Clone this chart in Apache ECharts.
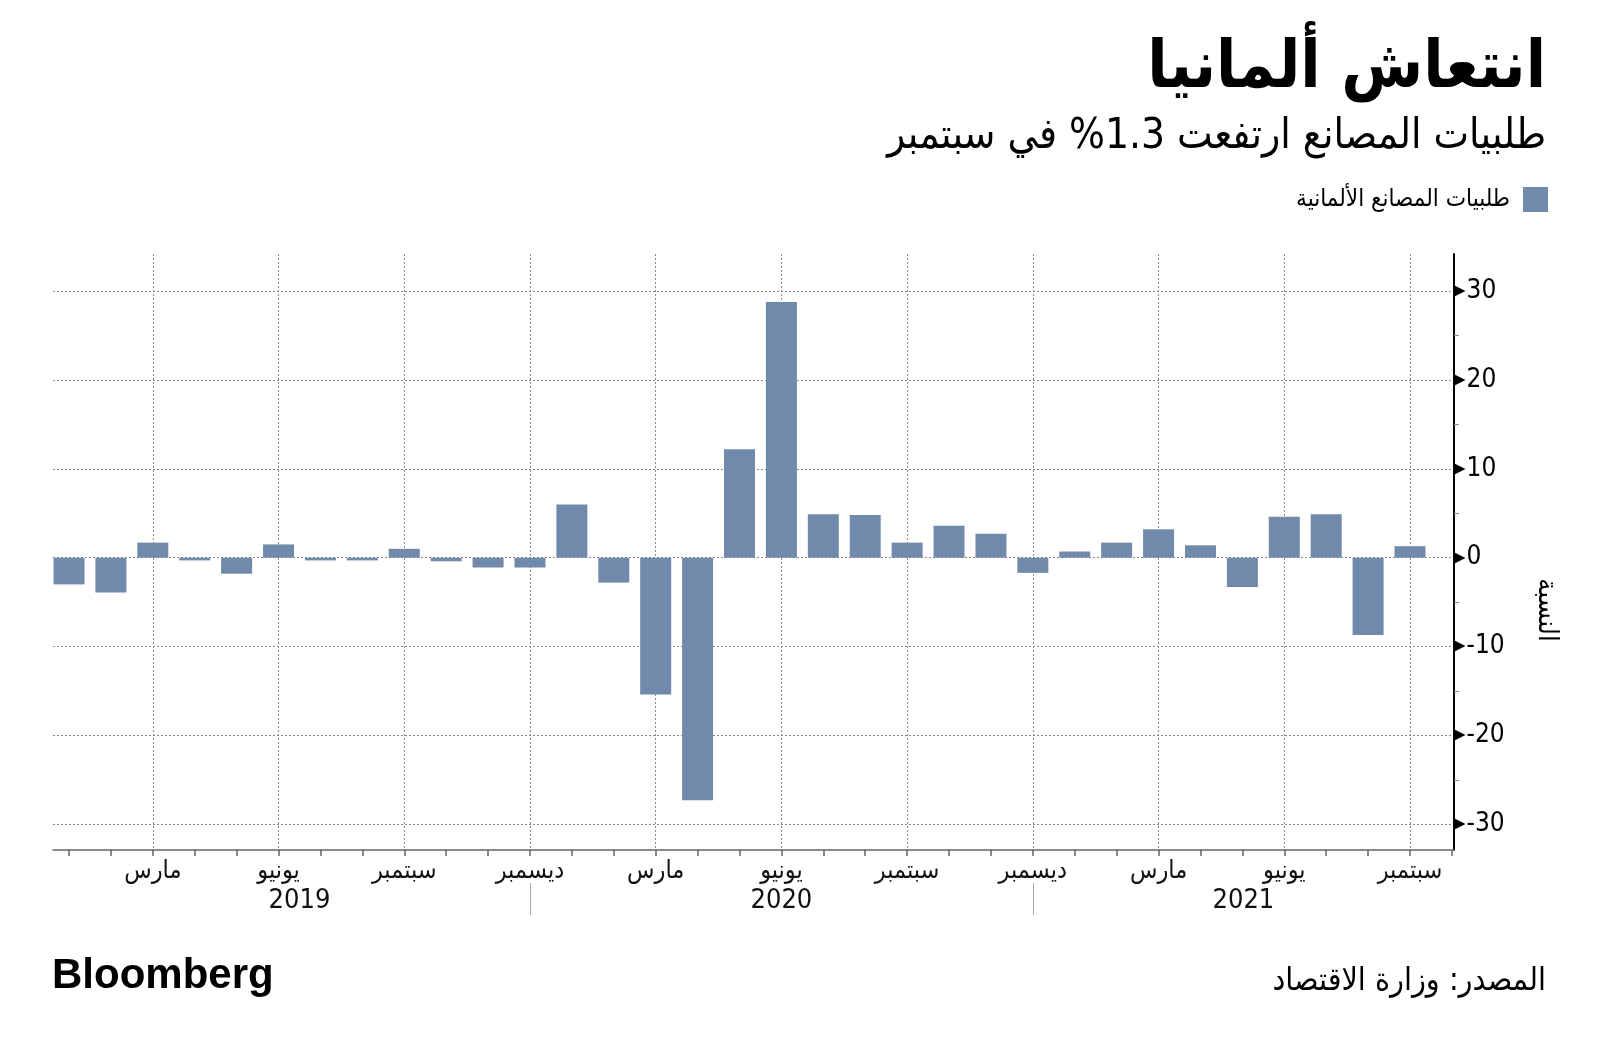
<!DOCTYPE html>
<html><head><meta charset="utf-8">
<script src="https://cdn.jsdelivr.net/npm/echarts@6/dist/echarts.min.js"></script>
<style>html,body{margin:0;padding:0;background:#fff}#c{width:1600px;height:1053px}</style>
</head><body><div id="c"></div>
<script>
// ---- data ----
const months = ['2019-01','2019-02','2019-03','2019-04','2019-05','2019-06','2019-07','2019-08','2019-09','2019-10','2019-11','2019-12',
  '2020-01','2020-02','2020-03','2020-04','2020-05','2020-06','2020-07','2020-08','2020-09','2020-10','2020-11','2020-12',
  '2021-01','2021-02','2021-03','2021-04','2021-05','2021-06','2021-07','2021-08','2021-09'];
const orders = [-3.0,-3.9,1.7,-0.3,-1.8,1.5,-0.3,-0.3,1.0,-0.4,-1.1,-1.1,
  6.0,-2.8,-15.4,-27.3,12.2,28.8,4.9,4.8,1.7,3.6,2.7,-1.7,
  0.7,1.7,3.2,1.4,-3.3,4.6,4.9,-8.7,1.3];
const monthNames = {'03':'مارس','06':'يونيو','09':'سبتمبر','12':'ديسمبر'};
const years = ['2019','2020','2021'];
const yMajorTicks = [-30,-20,-10,0,10,20,30];
const yMinorTicks = [-25,-15,-5,5,15,25];
const seriesName = 'طلبيات المصانع الألمانية';
const titleText = 'انتعاش ألمانيا';
const subtitleText = 'طلبيات المصانع ارتفعت 1.3% في سبتمبر';
const sourceText = 'المصدر: وزارة الاقتصاد';
const yAxisName = 'النسبة';

// ---- derived ----
const xMin = -0.382, xMax = 33.05;
const yMin = -32.9, yMax = 34.19;
const tickPos = months.map((m,i)=>i).concat([months.length]);
const labelPos = [], labelText = {};
months.forEach((m,i)=>{ const mm = m.slice(5); if (monthNames[mm]) { labelPos.push(i); labelText[i] = monthNames[mm]; } });
const sepPos = months.map((m,i)=>m.slice(5)==='12'?i:-1).filter(i=>i>=0);
const yearBounds = [0].concat(sepPos).concat([xMax]);
const yearPos = years.map((y,k)=>(yearBounds[k]+yearBounds[k+1])/2);
const yearText = {}; yearPos.forEach((p,k)=>yearText[p.toFixed(3)] = years[k]);

const AR = '"DejaVu Sans Condensed","DejaVu Sans",sans-serif';
const BAR = '#7189ab';

const chart = echarts.init(document.getElementById('c'), null, {renderer:'canvas'});
chart.setOption({
  backgroundColor:'#fff',
  animation:false,
  title:[
    {text:titleText, right:54, top:37, padding:0, textStyle:{fontFamily:AR, fontWeight:'bold', fontSize:66, color:'#000'}},
    {text:subtitleText, right:54, top:116, padding:0, textStyle:{fontFamily:AR, fontWeight:'normal', fontSize:42, color:'#000'}},
    {text:sourceText, right:54, top:966, padding:0, textStyle:{fontFamily:AR, fontWeight:'normal', fontSize:32, color:'#000'}},
    {text:'Bloomberg', left:52, top:955, padding:0, textStyle:{fontFamily:'"Liberation Sans",Arial,sans-serif', fontWeight:'bold', fontSize:42, color:'#000'}}
  ],
  legend:{data:[seriesName], right:52, top:187, padding:0, itemWidth:25, itemHeight:25, align:'right', icon:'rect',
    textStyle:{fontFamily:AR, fontSize:24, color:'#000', padding:[0,8,0,0]}},
  grid:{left:53, right:146, top:254, bottom:203, containLabel:false},
  xAxis:[
    {type:'value', min:xMin, max:xMax, position:'bottom',
      axisLine:{show:true, onZero:false, lineStyle:{color:'#666', width:1.5}},
      axisTick:{show:true, customValues:tickPos, length:6, lineStyle:{color:'#666', width:1.5}},
      axisLabel:{show:false}, splitLine:{show:false}},
    {type:'value', min:xMin, max:xMax, position:'bottom',
      axisLine:{show:false, onZero:false}, axisTick:{show:false, customValues:labelPos},
      axisLabel:{show:true, customValues:labelPos, formatter:v=>labelText[Math.round(v)]||'', margin:9, fontFamily:AR, fontSize:25, color:'#111'},
      splitLine:{show:true, lineStyle:{type:[2,2], color:'#8a8a8a', width:1}}},
    {type:'value', min:xMin, max:xMax, position:'bottom', offset:33,
      axisLine:{show:false, onZero:false},
      axisTick:{show:true, customValues:sepPos, length:32, lineStyle:{color:'#aaa', width:1}},
      axisLabel:{show:true, customValues:yearPos, formatter:v=>yearText[v.toFixed(3)]||'', margin:4, fontFamily:AR, fontSize:27, color:'#111'},
      splitLine:{show:false}}
  ],
  yAxis:[
    {type:'value', position:'right', min:yMin, max:yMax,
      axisLine:{show:true, onZero:false, lineStyle:{color:'#000', width:2}},
      axisTick:{show:false, customValues:yMajorTicks},
      axisLabel:{show:true, customValues:yMajorTicks, margin:0, formatter:v=>'{t|▶}{v|'+v+'}',
        rich:{t:{fontSize:15, color:'#000', padding:[0,1,0,0], fontFamily:'DejaVu Sans'}, v:{fontSize:26, color:'#000', fontFamily:AR}}},
      splitLine:{show:true, lineStyle:{type:[2,2], color:'#8a8a8a', width:1}}},
    {type:'value', position:'right', min:yMin, max:yMax,
      axisLine:{show:false, onZero:false},
      axisTick:{show:true, customValues:yMinorTicks, length:5, lineStyle:{color:'#888', width:1}},
      axisLabel:{show:false}, splitLine:{show:false}}
  ],
  graphic:[
    {type:'text', x:1546, y:610, rotation:-Math.PI/2, style:{text:yAxisName, fontFamily:AR, fontSize:27, fill:'#000', align:'center', verticalAlign:'middle'}}
  ],
  series:[
    {name:seriesName, type:'bar', xAxisIndex:0, yAxisIndex:0, barWidth:31,
      itemStyle:{color:BAR}, data:orders.map((v,i)=>[i,v])}
  ]
});
</script></body></html>
